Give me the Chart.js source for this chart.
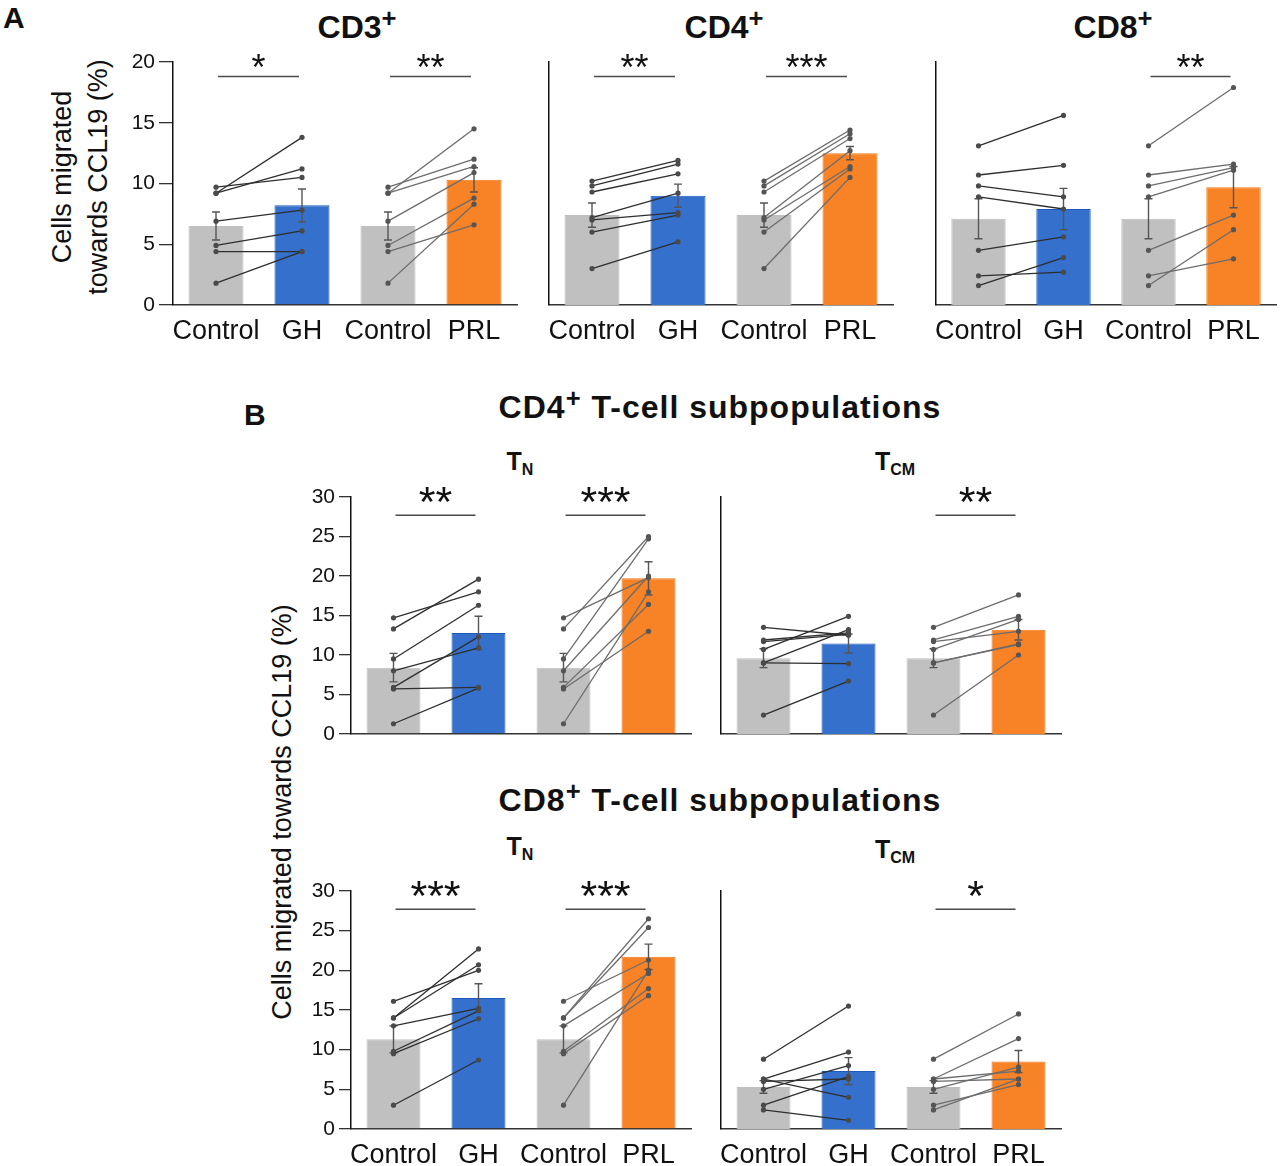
<!DOCTYPE html>
<html><head><meta charset="utf-8">
<script src="https://cdn.jsdelivr.net/npm/chart.js@4.4.1/dist/chart.umd.min.js"></script>
<style>
html,body{margin:0;padding:0;background:#fff;width:1280px;height:1166px;overflow:hidden;font-family:'Liberation Sans',Arial,sans-serif;color:#111;}
.abs{position:absolute;line-height:1;white-space:nowrap;}
.c{transform:translateX(-50%);}
.b{font-weight:bold;}
canvas{position:absolute;}
.sup{position:relative;top:-0.42em;font-size:0.8em;}
.sub{position:relative;top:0.32em;font-size:0.64em;}
.rot{position:absolute;transform:translate(-50%,-50%) rotate(-90deg);white-space:nowrap;text-align:center;font-size:27px;}
</style></head>
<body>
<div class="abs b" style="left:3px;top:3px;font-size:30px">A</div>
<div class="abs b c" style="left:357px;top:11px;font-size:32px">CD3<span class="sup">+</span></div>
<div class="abs b c" style="left:724px;top:11px;font-size:32px">CD4<span class="sup">+</span></div>
<div class="abs b c" style="left:1113px;top:11px;font-size:32px">CD8<span class="sup">+</span></div>
<div class="rot" style="left:80px;top:177px;line-height:36px">Cells migrated<br>towards CCL19 (%)</div>

<div class="abs b" style="left:244px;top:400px;font-size:30px">B</div>
<div class="abs b c" style="left:720px;top:391px;font-size:32px;letter-spacing:1px">CD4<span class="sup">+</span> T-cell subpopulations</div>
<div class="abs b c" style="left:520px;top:449px;font-size:25px">T<span class="sub">N</span></div>
<div class="abs b c" style="left:895px;top:449px;font-size:25px">T<span class="sub">CM</span></div>
<div class="abs b c" style="left:720px;top:784px;font-size:32px;letter-spacing:1px">CD8<span class="sup">+</span> T-cell subpopulations</div>
<div class="abs b c" style="left:520px;top:834px;font-size:25px">T<span class="sub">N</span></div>
<div class="abs b c" style="left:895px;top:837px;font-size:25px">T<span class="sub">CM</span></div>
<div class="rot" style="left:282px;top:812px">Cells migrated towards CCL19 (%)</div>

<canvas id="cd3"></canvas><canvas id="cd4"></canvas><canvas id="cd8"></canvas>
<canvas id="cd4tn"></canvas><canvas id="cd4tcm"></canvas>
<canvas id="cd8tn"></canvas><canvas id="cd8tcm"></canvas>
<script>
// ---------- data ----------
const categories = ['Control', 'GH', 'Control', 'PRL'];
const ticksA = [0, 5, 10, 15, 20];
const ticksB = [0, 5, 10, 15, 20, 25, 30];

// Panel A: CD3+
const cd3Means = [6.5, 8.2, 6.5, 10.3];
const cd3Sem = [1.15, 1.35, 1.15, 1.0];
const cd3Ctrl = [9.2, 9.2, 9.7, 6.9, 4.9, 4.4, 1.8];
const cd3GH = [13.8, 11.2, 10.5, 7.8, 6.1, 4.4, 4.4];
const cd3PRL = [14.5, 11.4, 12.0, 10.9, 8.8, 6.6, 8.3];
const cd3Sig = ['*', '**'];

// Panel A: CD4+
const cd4Means = [7.4, 9.0, 7.4, 12.5];
const cd4Sem = [1.0, 0.95, 1.0, 0.55];
const cd4Ctrl = [10.2, 9.8, 9.3, 7.2, 7.0, 6.0, 3.0];
const cd4GH = [11.9, 11.6, 10.8, 9.2, 7.6, 7.4, 5.2];
const cd4PRL = [14.4, 14.1, 13.7, 12.7, 11.4, 11.2, 10.5];
const cd4Sig = ['**', '***'];

// Panel A: CD8+
const cd8Means = [7.1, 7.9, 7.1, 9.7];
const cd8Sem = [1.65, 1.7, 1.65, 1.7];
const cd8Ctrl = [13.1, 10.7, 9.8, 8.9, 4.5, 2.4, 1.6];
const cd8GH = [15.6, 11.5, 8.9, 7.9, 5.6, 2.7, 3.9];
const cd8PRL = [17.9, 11.6, 11.3, 11.1, 7.4, 3.8, 6.2];
const cd8Sig = [null, '**'];

// Panel B: CD4+ TN
const cd4tnMeans = [8.4, 12.8, 8.4, 19.7];
const cd4tnSem = [1.8, 2.1, 1.8, 2.1];
const cd4tnCtrl = [14.7, 13.3, 9.5, 8.0, 5.9, 5.7, 1.3];
const cd4tnGH = [18.0, 19.6, 16.3, 10.9, 12.3, 5.9, 5.8];
const cd4tnPRL = [19.8, 25.0, 24.7, 20.0, 16.4, 13.0, 18.0];
const cd4tnSig = ['**', '***'];

// Panel B: CD4+ TCM
const cd4tcmMeans = [9.6, 11.45, 9.6, 13.2];
const cd4tcmSem = [1.2, 1.2, 1.2, 1.3];
const cd4tcmCtrl = [13.5, 11.9, 11.7, 10.7, 9.0, 9.0, 2.4];
const cd4tcmGH = [12.5, 12.8, 12.6, 14.9, 13.2, 8.9, 6.7];
const cd4tcmPRL = [17.6, 14.9, 13.0, 14.5, 11.3, 11.4, 10.0];
const cd4tcmSig = [null, '**'];

// Panel B: CD8+ TN
const cd8tnMeans = [11.3, 16.5, 11.3, 21.7];
const cd8tnSem = [1.7, 1.8, 1.7, 1.6];
const cd8tnCtrl = [16.1, 14.0, 14.0, 13.0, 9.8, 9.5, 3.0];
const cd8tnGH = [20.0, 22.7, 20.7, 15.2, 14.9, 13.9, 8.7];
const cd8tnPRL = [21.3, 26.5, 25.4, 19.6, 17.7, 16.8, 20.0];
const cd8tnSig = ['***', '***'];

// Panel B: CD8+ TCM
const cd8tcmMeans = [5.3, 7.3, 5.3, 8.5];
const cd8tcmSem = [0.8, 1.7, 0.8, 1.4];
const cd8tcmCtrl = [8.8, 6.3, 6.0, 6.3, 5.0, 3.0, 2.4];
const cd8tcmGH = [15.5, 9.7, 6.3, 4.0, 8.0, 6.6, 1.1];
const cd8tcmPRL = [14.5, 11.4, 6.3, 7.3, 7.8, 5.6, 6.3];
const cd8tcmSig = [null, '*'];

// ---------- styling / layout ----------
const FONT = "'Liberation Sans', Arial, sans-serif";
const GREY = 'rgb(192,192,192)', BLUE = 'rgb(52,112,204)', ORANGE = 'rgb(248,130,38)';
const BLUE_EDGE = 'rgb(30,88,190)', ORANGE_EDGE = 'rgb(240,118,20)';

const styleA = {yMax: 20, ticks: ticksA, tickLen: 14, starFont: 36, starGap: 15.7, sigLevel: 18.8, barPct: 0.64};
const styleB = {yMax: 30, ticks: ticksB, tickLen: 12, starFont: 43, starGap: 21.7, sigLevel: 27.7, barPct: 0.635};

function errPlugin(sem) {
  return {
    id: 'errbars',
    afterDatasetDraw(chart, args) {
      if (args.index !== 0) return;
      const meta = chart.getDatasetMeta(0), y = chart.scales.y, ctx = chart.ctx;
      const vals = chart.data.datasets[0].data;
      ctx.save();
      ctx.strokeStyle = '#555'; ctx.lineWidth = 1.4;
      vals.forEach((m, i) => {
        const x = meta.data[i].x;
        const y1 = y.getPixelForValue(m + sem[i]), y0 = y.getPixelForValue(m - sem[i]);
        ctx.beginPath();
        ctx.moveTo(x, y1); ctx.lineTo(x, y0);
        ctx.moveTo(x - 4, y1); ctx.lineTo(x + 4, y1);
        ctx.moveTo(x - 4, y0); ctx.lineTo(x + 4, y0);
        ctx.stroke();
      });
      ctx.restore();
    }
  };
}

function sigPlugin(marks, st) {
  return {
    id: 'sig',
    afterDraw(chart) {
      const meta = chart.getDatasetMeta(0), y = chart.scales.y, ctx = chart.ctx;
      const yy = y.getPixelForValue(st.sigLevel);
      marks.forEach((mk, k) => {
        if (!mk) return;
        const xa = meta.data[2 * k].x + 2, xb = meta.data[2 * k + 1].x - 3;
        ctx.save();
        ctx.strokeStyle = '#4a4a4a'; ctx.lineWidth = 1.5;
        ctx.beginPath(); ctx.moveTo(xa, yy); ctx.lineTo(xb, yy); ctx.stroke();
        ctx.fillStyle = '#111';
        ctx.font = st.starFont + 'px ' + FONT;
        ctx.textAlign = 'center'; ctx.textBaseline = 'alphabetic';
        ctx.fillText(mk, (xa + xb) / 2, yy + (0.5 * st.starFont + 1 - st.starGap));
        ctx.restore();
      });
    }
  };
}

function makePanel(id, g, st, means, sem, ctrl, gh, prl, sig) {
  const yW = g.yLabels ? 70 : 10, padTop = 45, xH = 42, padR = 10;
  const cv = document.getElementById(id);
  cv.width = yW + g.w + padR; cv.height = padTop + g.h + xH;
  cv.style.left = (g.left - yW) + 'px'; cv.style.top = (g.top - padTop) + 'px';

  const datasets = [{
    type: 'bar', data: means,
    backgroundColor: [GREY, BLUE, GREY, ORANGE],
    borderColor: [GREY, BLUE_EDGE, GREY, ORANGE_EDGE],
    borderWidth: 1, barPercentage: st.barPct, categoryPercentage: 1, order: 2
  }];
  ctrl.forEach((c, i) => {
    datasets.push({type: 'line', data: [c, gh[i], null, null], borderColor: '#2e2e2e', borderWidth: 1.3,
      pointRadius: 2.6, pointBackgroundColor: '#4a4a4a', pointBorderWidth: 0, tension: 0, order: 1});
    datasets.push({type: 'line', data: [null, null, c, prl[i]], borderColor: '#6c6c6c', borderWidth: 1.3,
      pointRadius: 2.6, pointBackgroundColor: '#555', pointBorderWidth: 0, tension: 0, order: 1});
  });

  new Chart(cv, {
    type: 'bar',
    data: {labels: categories, datasets},
    options: {
      responsive: false, animation: false, events: [],
      layout: {padding: {top: padTop, right: padR, left: 0, bottom: 0}, autoPadding: false},
      plugins: {legend: {display: false}, tooltip: {enabled: false}},
      scales: {
        x: {
          offset: true,
          grid: {display: false},
          border: {display: true, color: '#333', width: 1.5},
          ticks: {display: g.xLabels, color: '#111', font: {family: FONT, size: 27}, padding: 2, maxRotation: 0, autoSkip: false},
          afterFit(s) { s.height = xH; }
        },
        y: {
          min: 0, max: st.yMax,
          afterBuildTicks(s) { s.ticks = st.ticks.map(v => ({value: v})); },
          grid: {display: g.yLabels, drawOnChartArea: false, drawTicks: true, tickLength: st.tickLen, color: '#333', lineWidth: 1.3},
          border: {display: true, color: '#111', width: 1.5},
          ticks: {display: g.yLabels, color: '#111', font: {family: FONT, size: 21}, padding: 4},
          afterFit(s) { s.width = yW; }
        }
      }
    },
    plugins: [errPlugin(sem), sigPlugin(sig, st)]
  });
}

makePanel('cd3', {left: 173, top: 62, w: 344, h: 243, yLabels: true, xLabels: true}, styleA, cd3Means, cd3Sem, cd3Ctrl, cd3GH, cd3PRL, cd3Sig);
makePanel('cd4', {left: 549, top: 62, w: 344, h: 243, yLabels: false, xLabels: true}, styleA, cd4Means, cd4Sem, cd4Ctrl, cd4GH, cd4PRL, cd4Sig);
makePanel('cd8', {left: 936, top: 62, w: 340, h: 243, yLabels: false, xLabels: true}, styleA, cd8Means, cd8Sem, cd8Ctrl, cd8GH, cd8PRL, cd8Sig);
makePanel('cd4tn', {left: 351, top: 497, w: 340, h: 237, yLabels: true, xLabels: false}, styleB, cd4tnMeans, cd4tnSem, cd4tnCtrl, cd4tnGH, cd4tnPRL, cd4tnSig);
makePanel('cd4tcm', {left: 721, top: 497, w: 340, h: 237, yLabels: false, xLabels: false}, styleB, cd4tcmMeans, cd4tcmSem, cd4tcmCtrl, cd4tcmGH, cd4tcmPRL, cd4tcmSig);
makePanel('cd8tn', {left: 351, top: 891, w: 340, h: 238, yLabels: true, xLabels: true}, styleB, cd8tnMeans, cd8tnSem, cd8tnCtrl, cd8tnGH, cd8tnPRL, cd8tnSig);
makePanel('cd8tcm', {left: 721, top: 891, w: 340, h: 238, yLabels: false, xLabels: true}, styleB, cd8tcmMeans, cd8tcmSem, cd8tcmCtrl, cd8tcmGH, cd8tcmPRL, cd8tcmSig);
</script>
</body></html>
